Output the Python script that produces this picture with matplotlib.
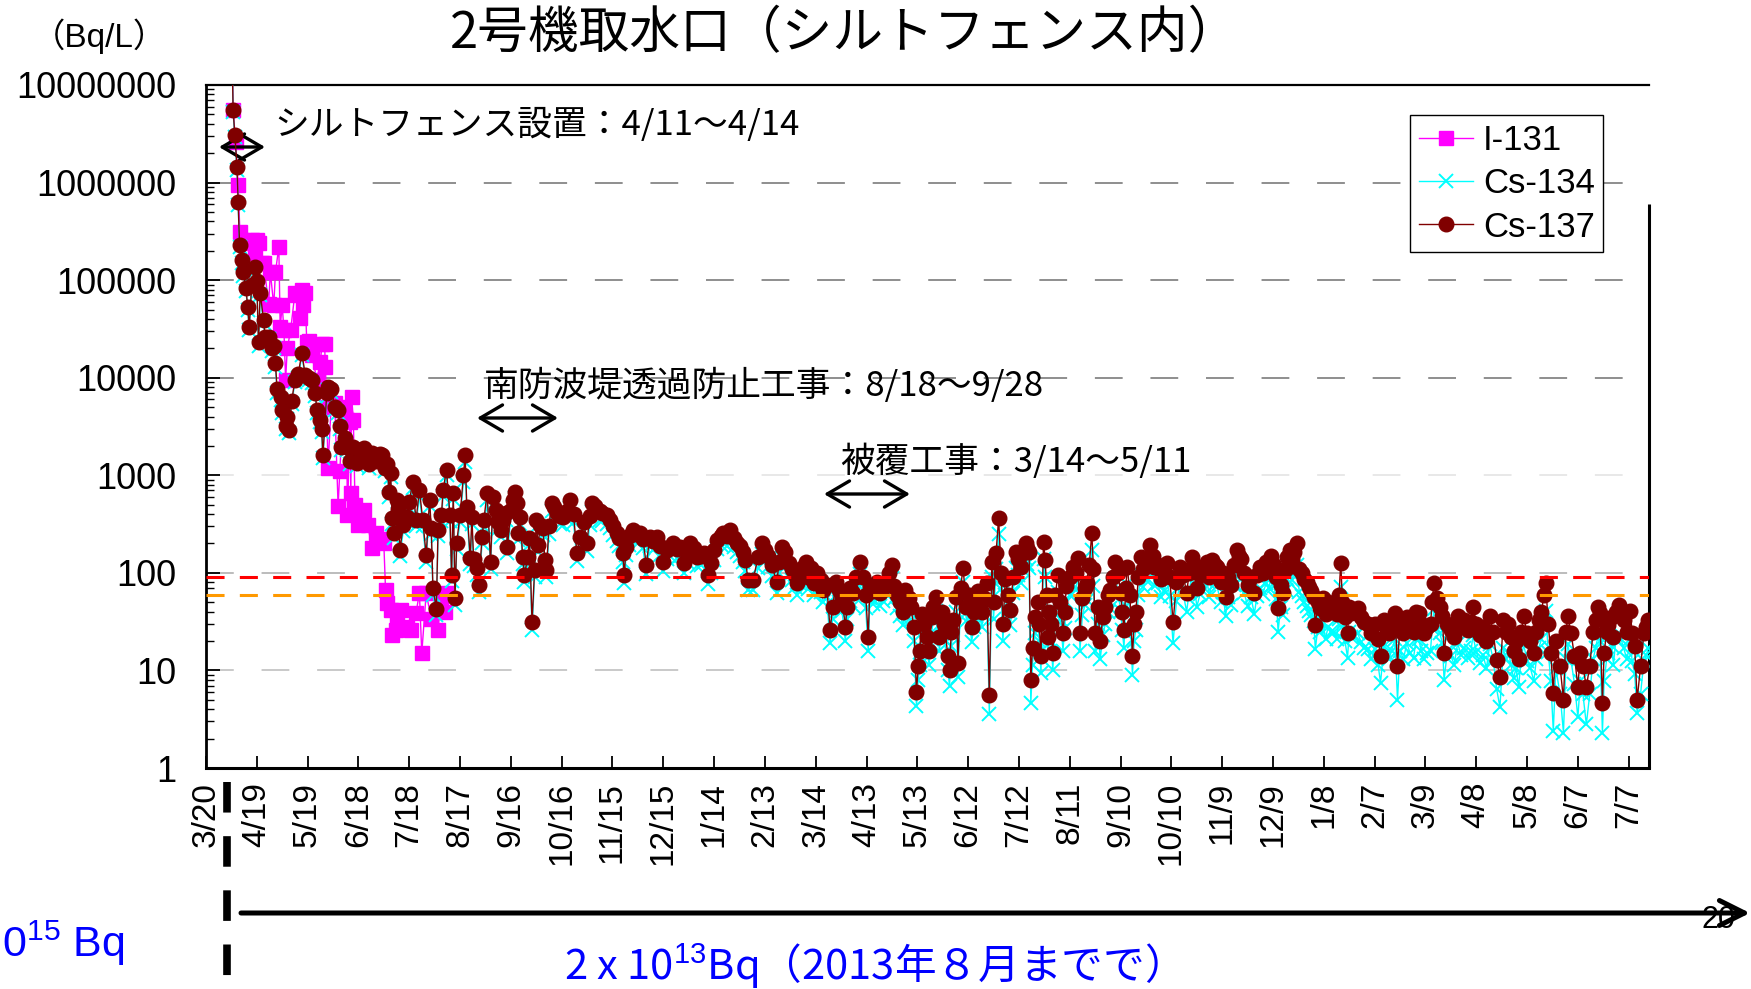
import numpy as np
import matplotlib.pyplot as plt
from matplotlib.lines import Line2D
from matplotlib.ticker import FixedLocator, NullFormatter

plt.rcParams['font.family'] = ['Liberation Sans', 'Noto Sans CJK JP', 'DejaVu Sans']
plt.rcParams['mathtext.fontset'] = 'custom'
plt.rcParams['mathtext.rm'] = 'Liberation Sans'
plt.rcParams['lines.scale_dashes'] = False

# sampling days, counted from 2011-03-20
cs_days = [
    15.5, 16, 17, 18.3, 19, 19.8, 21, 22, 23.6, 24.6,
    25.5, 27, 29, 30, 31, 32, 34, 35, 37, 39,
    40, 41, 42, 44, 45, 47, 48, 49, 50.6, 52.5,
    54.5, 56.6, 58.6, 60.6, 62.6, 64.5, 65.5, 67.5, 68.3, 69,
    71.3, 72.3, 74, 76, 78, 79, 80, 82, 83, 85,
    87, 89, 90.5, 92, 93.5, 95, 96.5, 98, 99.5, 101,
    102.5, 104, 105.5, 107, 108, 109, 110, 111, 112.5, 113.5,
    114.5, 116.5, 118.5, 120, 122, 124, 126, 128, 130, 132,
    133, 134, 136, 137, 139, 140, 142, 144, 145, 146,
    147, 148, 150, 152, 153, 154, 156, 157, 158, 160,
    161, 163, 164, 166, 168, 169.5, 171, 172.5, 174, 175.5,
    177, 178, 180, 181.5, 182.5, 183.5, 184.5, 185.5, 187, 188,
    190, 191, 192.5, 194, 195, 196, 197.5, 199, 200, 201,
    202.5, 204, 205.5, 207, 209, 211, 213, 215, 217, 219,
    221, 223, 225, 226.5, 228, 229.5, 231, 232.5, 234, 236.5,
    238.5, 240.5, 242.5, 244, 246, 247, 248, 250, 252, 254,
    256, 258, 260, 262, 264, 266, 268, 270, 272, 274,
    276, 278, 280, 282, 284, 286, 288, 290, 292, 294,
    296.5, 298, 300, 302, 304, 305.5, 307.5, 309.5, 311.5, 313.5,
    315, 317, 318.5, 320, 323, 326, 328, 330, 332, 334,
    337, 338.5, 340, 342, 344, 346, 347.5, 349, 350.5, 352,
    354, 355.5, 357, 359, 361, 363, 364.5, 366.5, 368.5, 370,
    372, 374, 375.5, 377.5, 378.5, 380, 382, 384, 386, 388,
    389.5, 391, 392, 394, 396, 398, 400, 402, 403.5, 405,
    406, 408, 410, 411.5, 413, 415, 416, 418, 419.5, 420.5,
    421.5, 422.5, 424, 425.5, 427, 428.5, 429.5, 431, 433, 434.5,
    436, 438, 439, 440, 441, 443, 444, 445.5, 447, 449,
    450.5, 452, 453.5, 454.5, 456, 458, 459.5, 461, 462.5, 464,
    465, 466.5, 468, 469.5, 470.5, 472, 473.5, 475, 476.5, 478,
    479.5, 481, 482.5, 484, 485, 486, 487, 488, 489.5, 491,
    492, 493, 494.5, 495.5, 496.5, 497, 498, 499, 500, 501.5,
    503, 504.5, 506, 507, 508, 510, 512, 513.5, 515, 516,
    517.5, 519, 520, 521.5, 523, 524, 525, 526.5, 528, 529.5,
    531, 532.5, 534, 535.5, 537, 538.5, 540, 541, 542, 543,
    544, 545.5, 547, 548, 549, 550.5, 552, 553.5, 555, 557.5,
    559, 560, 562, 564, 565.5, 567.5, 569, 571, 573, 575,
    577, 579, 580.5, 582, 583.5, 585, 587, 589, 591, 592.5,
    594, 595.5, 597, 599, 600.5, 602, 603.5, 605, 607, 609,
    610, 611, 613, 615, 617, 619, 620.5, 622.5, 624, 626,
    627.5, 629, 630.5, 632, 633, 634.5, 636, 637.5, 638.5, 640,
    641, 642.5, 644, 645.5, 647, 648.5, 650, 651, 652.5, 654,
    655, 656.5, 658, 659.5, 661, 662.5, 664, 666, 667.5, 669,
    670, 671, 672.5, 674, 675, 676, 678, 680, 682, 684,
    686, 688, 690, 692, 693.5, 695.5, 697, 698.5, 700, 702,
    703.5, 705, 707, 709, 711, 713, 714.5, 716, 717.5, 719,
    721, 723, 724, 725, 727, 728.5, 730, 731, 733, 735,
    737, 739, 741, 743, 745, 747, 748, 750, 752, 754,
    756, 758, 760, 762, 764, 766, 767.5, 769, 770.5, 772,
    773.5, 775, 776.5, 778, 780, 782, 784, 785.5, 787, 788.5,
    790, 791, 792.5, 794, 795.5, 797, 799.5, 801.5, 803, 804,
    806, 808, 810, 811.5, 813, 815, 817, 819, 820.5, 822,
    823, 824.5, 825.5, 827, 828, 830, 831, 832.5, 834, 835.5,
    837, 839, 841, 842, 843.5, 845, 847, 849, 850.5, 851.5,
]

# Cs-137 (Bq/L)
cs137 = [
    1.8e7, 5.6e6, 3.1e6, 1.45e6, 6.3e5, 2.3e5, 1.6e5, 1.2e5, 8.3e4, 5.3e4,
    3.3e4, 9.0e4, 1.35e5, 9.7e4, 2.3e4, 7.4e4, 3.9e4, 2.6e4, 2.6e4, 2.0e4,
    2.1e4, 1.4e4, 7.6e3, 6.3e3, 4.7e3, 3.2e3, 4.0e3, 2.9e3, 5.8e3, 9.5e3,
    1.1e4, 1.8e4, 1.06e4, 1.0e4, 9.5e3, 6.9e3, 4.7e3, 3.7e3, 3.0e3, 1.6e3,
    6.9e3, 8.0e3, 7.6e3, 5.0e3, 4.7e3, 3.2e3, 1.95e3, 2.4e3, 1.95e3, 1.4e3,
    1.95e3, 1.35e3, 1.8e3, 1.6e3, 1.9e3, 1.75e3, 1.3e3, 1.7e3, 1.5e3, 1.4e3,
    1.65e3, 1.6e3, 1.2e3, 1.3e3, 680, 1050, 365, 257, 560, 450,
    172, 310, 375, 530, 850, 345, 710, 345, 152, 560,
    290, 70, 43, 275, 390, 710, 1140, 395, 95, 660,
    55, 204, 390, 1000, 1600, 475, 142, 375, 138, 112,
    75, 234, 345, 660, 130, 600, 445, 330, 275, 345,
    415, 186, 445, 560, 680, 520, 257, 375, 145, 95,
    145, 230, 31, 107, 350, 195, 310, 290, 135, 107,
    300, 520, 470, 415, 380, 375, 430, 560, 400, 160,
    234, 330, 204, 380, 520, 480, 445, 430, 415, 390,
    350, 300, 257, 230, 160, 95, 186, 240, 275, 250,
    257, 220, 120, 234, 210, 234, 190, 130, 170, 186,
    200, 175, 186, 125, 160, 204, 180, 145, 150, 160,
    95, 125, 170, 218, 240, 257, 240, 275, 230, 204,
    190, 165, 135, 85, 85, 145, 200, 170, 150, 120,
    81, 130, 186, 165, 127, 110, 95, 79, 100, 112,
    130, 90, 112, 79, 100, 85, 67, 75, 26, 45,
    80, 67, 55, 28, 45, 70, 62, 90, 130, 90,
    60, 22, 74, 65, 80, 62, 70, 81, 100, 120,
    74, 60, 50, 40, 67, 55, 45, 28, 6, 11,
    16, 38, 30, 22, 16, 35, 45, 57, 22, 40,
    30, 14, 10, 25, 33, 57, 12, 70, 112, 45,
    60, 28, 40, 52, 65, 40, 55, 79, 5.6, 130,
    50, 160, 365, 100, 30, 86, 60, 42, 90, 165,
    140, 115, 160, 204, 180, 165, 8, 17, 35, 50,
    30, 14, 208, 135, 60, 22, 40, 30, 15, 60,
    95, 50, 24, 40, 74, 90, 115, 100, 142, 24,
    55, 70, 79, 120, 257, 110, 24, 45, 20, 35,
    45, 60, 67, 90, 130, 100, 62, 40, 26, 70,
    115, 60, 14, 30, 40, 90, 145, 110, 130, 195,
    150, 115, 120, 86, 100, 127, 90, 31, 80, 115,
    95, 62, 100, 145, 120, 70, 95, 110, 130, 90,
    135, 120, 115, 80, 100, 57, 90, 75, 120, 170,
    150, 140, 100, 75, 90, 62, 95, 115, 100, 130,
    115, 150, 120, 90, 44, 75, 62, 110, 145, 170,
    140, 165, 200, 110, 100, 86, 80, 72, 65, 57,
    29, 50, 44, 55, 38, 50, 44, 45, 38, 60,
    127, 50, 35, 24, 45, 39, 40, 44, 35, 31,
    30, 24, 30, 21, 14, 33, 28, 24, 30, 39,
    11, 30, 24, 35, 28, 25, 40, 39, 30, 24,
    28, 30, 50, 79, 55, 45, 36, 15, 30, 26,
    22, 36, 28, 33, 26, 31, 45, 30, 23, 28,
    20, 36, 25, 12.8, 8.6, 33, 25, 30, 22, 16,
    20, 13, 25, 36, 24, 20, 15, 25, 33, 40,
    60, 79, 30, 15, 5.9, 20, 11, 5, 25, 36,
    24, 14, 6.8, 15, 11, 6.8, 11, 25, 33, 45,
    39, 4.6, 15, 25, 29, 35, 22, 40, 47, 40,
    33, 25, 41, 24, 18, 5, 11, 24, 28, 33,
]

# Cs-134 (Bq/L)
cs134 = [
    1.7e7, 5.3e6, 2.9e6, 1.35e6, 5.9e5, 2.2e5, 1.5e5, 1.1e5, 7.8e4, 5.0e4,
    3.1e4, 8.5e4, 1.25e5, 9.0e4, 2.1e4, 7.0e4, 3.6e4, 2.4e4, 2.5e4, 1.9e4,
    2.0e4, 1.3e4, 7.0e3, 5.9e3, 4.4e3, 3.0e3, 3.8e3, 2.7e3, 5.4e3, 9.0e3,
    1.0e4, 1.7e4, 1.0e4, 9.4e3, 8.8e3, 6.5e3, 4.4e3, 3.5e3, 2.8e3, 1.5e3,
    6.4e3, 7.5e3, 7.1e3, 4.7e3, 4.4e3, 3.0e3, 1.8e3, 2.2e3, 1.8e3, 1.3e3,
    1.8e3, 1.25e3, 1.65e3, 1.5e3, 1.75e3, 1.6e3, 1.2e3, 1.55e3, 1.35e3, 1.3e3,
    1.5e3, 1.45e3, 1.1e3, 1.15e3, 600, 950, 320, 225, 490, 400,
    150, 270, 330, 460, 740, 300, 620, 300, 130, 490,
    250, 60, 37, 240, 340, 620, 1000, 340, 82, 570,
    47, 175, 335, 860, 1380, 410, 122, 320, 118, 96,
    64, 200, 295, 560, 110, 510, 380, 280, 235, 295,
    350, 158, 380, 470, 580, 440, 218, 320, 122, 80,
    122, 195, 26, 90, 295, 165, 260, 245, 114, 90,
    250, 430, 390, 345, 315, 310, 355, 465, 330, 132,
    192, 270, 168, 310, 425, 395, 365, 350, 340, 320,
    285, 245, 210, 188, 130, 78, 152, 195, 225, 205,
    210, 178, 97, 190, 170, 190, 154, 105, 138, 150,
    162, 142, 150, 100, 128, 165, 145, 117, 120, 128,
    76, 100, 135, 175, 192, 205, 190, 220, 182, 162,
    150, 130, 105, 66, 66, 112, 155, 132, 116, 92,
    62, 100, 142, 126, 97, 84, 72, 60, 76, 85,
    98, 68, 85, 60, 75, 64, 50, 56, 19, 34,
    60, 50, 41, 20, 34, 52, 46, 67, 97, 67,
    44, 16, 55, 48, 59, 46, 51, 60, 74, 88,
    54, 44, 36, 29, 49, 40, 33, 20, 4.3, 8,
    11.5, 27, 21, 16, 11.5, 25, 32, 41, 16, 29,
    21, 10, 7, 18, 23, 40, 8.5, 50, 80, 32,
    42, 19.5, 28, 36, 45, 28, 38, 55, 3.6, 90,
    34, 110, 250, 68, 20, 59, 41, 29, 62, 113,
    95, 78, 108, 138, 122, 112, 4.6, 11.5, 24, 34,
    20, 9.5, 140, 91, 40, 15, 27, 20, 10, 40,
    64, 34, 16, 27, 50, 60, 77, 67, 95, 16,
    37, 47, 53, 80, 170, 73, 16, 30, 13, 23,
    30, 40, 44, 60, 86, 66, 41, 26, 17, 46,
    76, 40, 9, 20, 26, 59, 95, 72, 85, 128,
    98, 75, 78, 56, 65, 82, 58, 19, 52, 74,
    61, 40, 64, 93, 77, 45, 61, 70, 83, 57,
    86, 76, 73, 50, 63, 36, 57, 47, 75, 106,
    93, 87, 62, 46, 56, 38, 58, 70, 61, 79,
    70, 91, 73, 54, 25, 45, 37, 66, 87, 102,
    84, 99, 120, 64, 58, 50, 46, 41, 37, 32,
    16.5, 28, 25, 31, 21, 28, 25, 25, 21, 34,
    72, 28, 20, 13.5, 25, 22, 22, 24, 19.5, 17,
    16.5, 13, 16.5, 11.5, 7.5, 18, 15, 13, 16, 21,
    5, 16, 13, 19, 15, 13.5, 21, 21, 16, 13,
    15, 16, 27, 43, 29, 24, 19, 8, 16, 14,
    11.5, 19, 14.5, 17, 13.5, 16, 23, 15.5, 12, 14.5,
    10.5, 18.5, 13, 6.5, 4.2, 17, 13, 15.5, 11.5, 8.3,
    10.5, 6.8, 13, 18.5, 12.5, 10.5, 7.8, 13, 17, 21,
    31, 41, 15.5, 7.8, 2.4, 10.5, 5.7, 2.3, 13, 18.5,
    12.5, 7.3, 3.3, 7.8, 5.7, 2.8, 5.7, 13, 17, 23,
    20, 2.3, 7.8, 13, 15, 18, 11.5, 21, 24, 21,
    17, 13, 21, 12.5, 9.3, 3.7, 5.7, 12.5, 14.5, 17,
]

# I-131 sampling days and values (Bq/L)
i131_days = [
    15.5, 16, 17.5, 19, 20, 21.5, 24, 27, 29, 30,
    31, 33, 34, 37, 38, 40, 41, 43, 43.8, 45,
    46, 47, 48, 50, 52.5, 54, 55.6, 56.6, 57.5, 58.5,
    59.5, 61, 62, 62.5, 65.5, 67.5, 68.5, 70, 70.5, 71.3,
    72, 74, 76, 78, 79, 81, 82, 83, 83.5, 85,
    85.5, 86, 87, 88, 89.5, 91, 93, 95.5, 98, 100.5,
    103, 105, 106, 107, 109, 110, 112, 113, 115, 118.5,
    121, 124, 126, 127.4, 130, 133, 137, 138.5, 141, 142.5,
]
i131 = [
    1.8e7, 5.6e6, 2.6e6, 9.4e5, 3.1e5, 2.6e5, 2.4e5, 2.6e5, 1.9e5, 2.6e5,
    2.4e5, 1.5e5, 1.5e5, 5.7e4, 1.2e5, 5.5e4, 1.2e5, 2.2e5, 3.3e4, 5.5e4,
    3.1e4, 9.5e3, 2.0e4, 3.1e4, 7.4e4, 7.0e4, 4.1e4, 8.0e4, 5.5e4, 7.4e4,
    2.3e4, 2.4e4, 1.9e4, 1.7e4, 9.5e3, 1.45e4, 2.2e4, 2.2e4, 1.3e4, 5.0e3,
    1.2e3, 5.5e3, 5.5e3, 480, 1.1e3, 5.0e3, 3.9e3, 3.7e3, 390, 3.5e3,
    660, 6.3e3, 3.7e3, 500, 310, 430, 445, 310, 180, 257,
    220, 200, 67, 49, 42, 23, 26, 33, 42, 28,
    26, 39, 62, 15, 62, 34, 26, 52, 40, 62,
]

tick_labels = ['3/20', '4/19', '5/19', '6/18', '7/18', '8/17', '9/16', '10/16',
               '11/15', '12/15', '1/14', '2/13', '3/14', '4/13', '5/13', '6/12',
               '7/12', '8/11', '9/10', '10/10', '11/9', '12/9', '1/8', '2/7',
               '3/9', '4/8', '5/8', '6/7', '7/7']
decades = [1, 10, 100, 1000, 10000, 100000, 1000000, 10000000]
decade_labels = ['1', '10', '100', '1000', '10000', '100000', '1000000', '10000000']

limit_cs137 = 90
limit_cs134 = 60

W, H = 1751, 989


def fx(x):
    return x / W


def fy(y):
    return 1 - y / H


fig = plt.figure(figsize=(W / 100, H / 100), dpi=100)
ax = fig.add_axes([fx(206), fy(768), (1649 - 206) / W, (768 - 85) / H])

ax.set_yscale('log')
ax.set_ylim(1, 1e7)
ax.set_xlim(0, 852)

# decade grid, dashed grey
grid_cols = ['#BBBBBB', '#AAAAAA', '#E2E2E2', '#707070', '#707070', '#707070']
for val, col in zip(decades[1:-1], grid_cols):
    ax.axhline(val, color=col, lw=1.1, dashes=(20, 20), zorder=1)

ax.plot(i131_days, i131, color='#FF00FF', lw=1.0, marker='s', ms=9.5,
        mfc='#FF00FF', mec='#FF00FF', label='I-131', zorder=2)
ax.plot(cs_days, cs134, color='#00FFFF', lw=1.0, marker='x', ms=10, mew=1.4,
        label='Cs-134', zorder=3)
ax.plot(cs_days, cs137, color='#800000', lw=1.0, marker='o', ms=10.5,
        mfc='#800000', mec='#800000', label='Cs-137', zorder=3.5)

ax.axhline(limit_cs137, color='#FF0000', lw=2.2, dashes=(13, 11), zorder=5)
ax.axhline(limit_cs134, color='#FF9900', lw=2.2, dashes=(13, 11), zorder=5)

ax.yaxis.set_major_locator(FixedLocator(decades))
ax.set_yticklabels(decade_labels)
ax.yaxis.set_minor_formatter(NullFormatter())
ax.tick_params(axis='y', which='major', direction='in', length=10, width=1.3,
               pad=21, labelsize=26)
ax.tick_params(axis='y', which='minor', direction='in', length=6, width=1.0)

ax.set_xticks(np.arange(len(tick_labels)) * 30)
ax.set_xticklabels(tick_labels, rotation=90)
ax.tick_params(axis='x', direction='in', length=9, width=1.3, pad=10, labelsize=24)

for side, lw in [('left', 2.0), ('bottom', 2.2), ('top', 1.6)]:
    ax.spines[side].set_linewidth(lw)
ax.spines['right'].set_visible(False)
ax.plot([1, 1], [0, (768 - 204) / (768 - 85)], transform=ax.transAxes,
        color='black', lw=2.2, clip_on=False, solid_capstyle='butt')

leg = ax.legend(loc='upper left', bbox_to_anchor=(fx(1410), fy(115)),
                bbox_transform=fig.transFigure, fontsize=25, fancybox=False,
                framealpha=1, edgecolor='black', borderpad=0.25, labelspacing=0.3,
                handlelength=1.55, handletextpad=0.3, borderaxespad=0, numpoints=1)
leg.get_frame().set_linewidth(1.0)
leg.set_zorder(10)

# titles
jp = ['Noto Sans CJK JP', 'DejaVu Sans']
fig.text(fx(845), fy(34), '2号機取水口（シルトフェンス内）', fontsize=36.5,
         family=jp, ha='center', va='center')
fig.text(fx(32), fy(36), '（Bq/L）', fontsize=24, ha='left', va='center')

# construction periods
notes = [
    ('シルトフェンス設置：4/11～4/14', 274, 125, 219, 265, 147),
    ('南防波堤透過防止工事：8/18～9/28', 484, 386, 477, 558, 418),
    ('被覆工事：3/14～5/11', 840, 462, 824, 910, 494),
]
for text, tx, ty, x0, x1, ay in notes:
    fig.text(fx(tx), fy(ty), text, fontsize=25, family=jp, ha='left', va='center')
    ax.annotate('', xy=(fx(x1), fy(ay)), xytext=(fx(x0), fy(ay)),
                xycoords='figure fraction', textcoords='figure fraction',
                arrowprops=dict(arrowstyle='<->, head_length=0.8, head_width=0.47',
                                lw=2.4, color='black', shrinkA=0, shrinkB=0,
                                mutation_scale=20))

# release timeline below the axis
fig.add_artist(Line2D([fx(227), fx(227)], [fy(782), fy(979)], lw=5.5,
                      color='black', dashes=(22, 17)))
ax.annotate('', xy=(fx(1750), fy(913)), xytext=(fx(241), fy(913)),
            xycoords='figure fraction', textcoords='figure fraction',
            arrowprops=dict(arrowstyle='->, head_length=0.9, head_width=0.45',
                            lw=3.6, color='black', shrinkA=0, shrinkB=0,
                            mutation_scale=20))
fig.text(fx(1718), fy(920), '20', fontsize=22, ha='center', va='center')
fig.text(fx(2), fy(957), '0$^{\\mathrm{15}}$ Bq', fontsize=31, color='#0000FF',
         ha='left', va='baseline')
fig.text(fx(564), fy(980), '2 x 10$^{\\mathrm{13}}$Bq（2013年８月までで）',
         fontsize=30, color='#0000FF', family=jp, ha='left', va='baseline')

fig.savefig('out.png', dpi=100)
